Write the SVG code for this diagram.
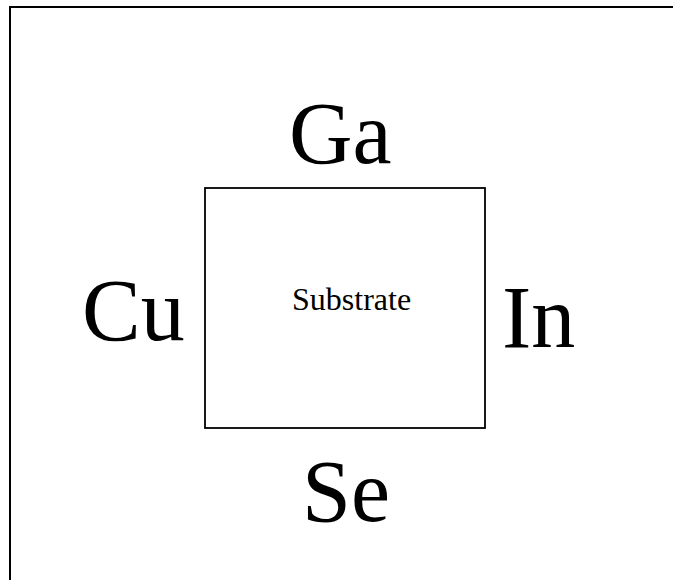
<svg xmlns="http://www.w3.org/2000/svg" width="673" height="580" viewBox="0 0 673 580">
<style>
.big{font-family:"Liberation Serif","Times New Roman",serif;font-size:88px;fill:#000}
.small{font-family:"Liberation Serif","Times New Roman",serif;font-size:32px;fill:#000}
</style>
<rect x="0" y="0" width="673" height="580" fill="#fff"/>
<path d="M10,582 V7 H675" fill="none" stroke="#000" stroke-width="2"/>
<g id="substrate">
<rect x="205" y="188" width="280" height="240" fill="none" stroke="#000" stroke-width="1.8"/>
<text class="small" x="292" y="310">Substrate</text>
</g>
<g id="ga"><text class="big" x="289" y="163">Ga</text></g>
<g id="cu"><text class="big" x="82" y="340">Cu</text></g>
<g id="in"><text class="big" x="502" y="347">In</text></g>
<g id="se"><text class="big" x="302" y="521">Se</text></g>
<g id="connectors"></g>
</svg>
